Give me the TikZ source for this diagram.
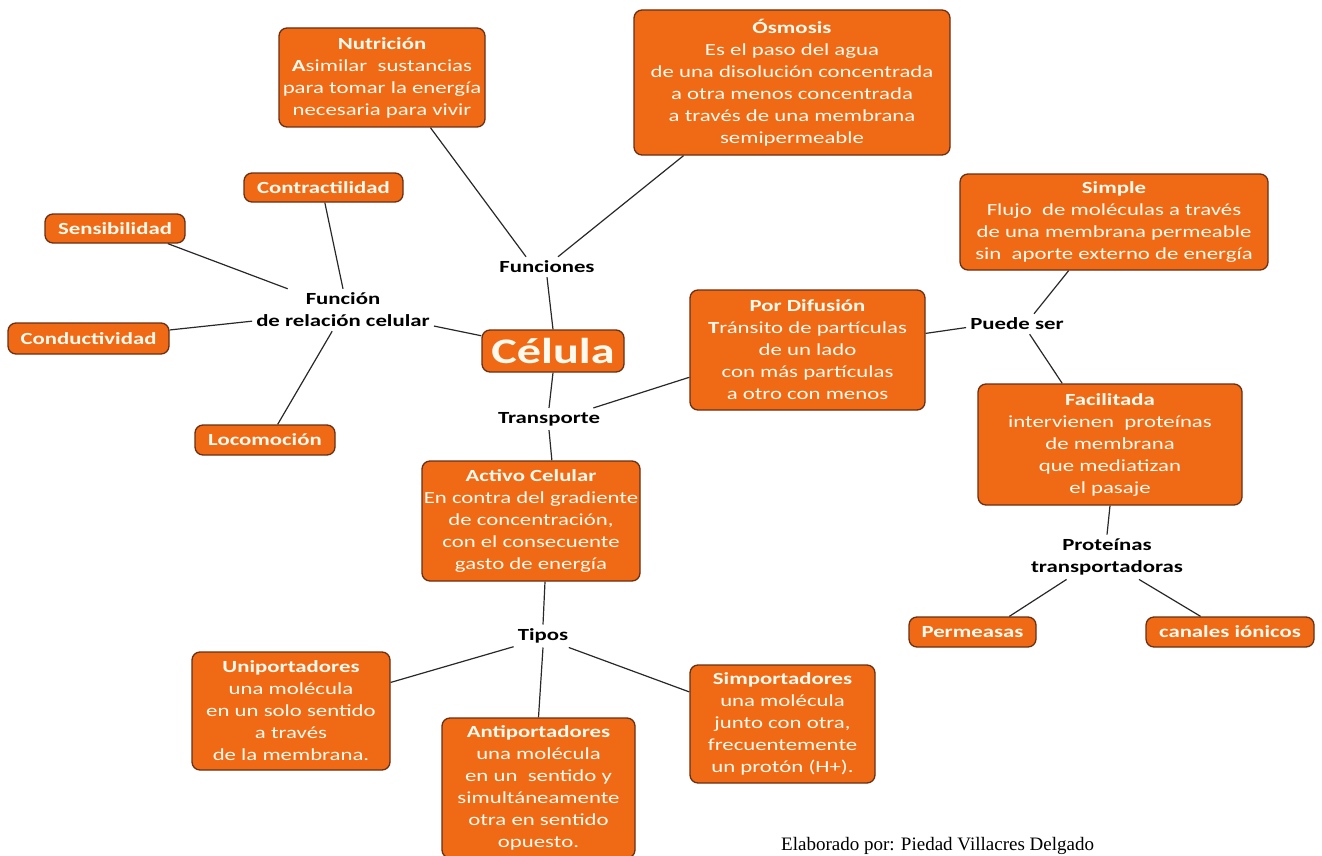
\documentclass[tikz,border=0pt]{standalone}
\usepackage{fontspec}
\setmainfont{Carlito}[FakeStretch=1.34]
\newfontfamily\footfont{Liberation Serif}
\usepackage{tikz}
\usetikzlibrary{positioning}
\definecolor{boxorange}{RGB}{240,105,20}
\definecolor{boxedge}{RGB}{105,48,20}
\definecolor{boxtext}{RGB}{255,249,238}
\definecolor{linkgray}{RGB}{40,40,40}

\begin{document}
\begin{tikzpicture}[x=1pt,y=-1pt,font=\fontsize{17}{22}\selectfont,
 box/.style={draw=boxedge,line width=1.3pt,fill=boxorange,text=boxtext,rounded corners=8pt,align=center,inner sep=0pt},
 tag/.style={font=\fontsize{17}{22}\selectfont\bfseries,align=center,inner sep=4pt},
 link/.style={draw=linkgray,line width=1.2pt}]
 \useasboundingbox (0,0) rectangle (1322,856);
 % centre
 \node[box,minimum width=142pt,minimum height=42pt,font=\fontsize{36}{40}\selectfont\bfseries] (cel) at (553,351) {Célula};
 % funciones
 \node[tag] (fun) at (547,267) {Funciones};
 \node[box,minimum width=206pt,minimum height=99pt] (nut) at (382,77.5) {\textbf{Nutrición}\\\textbf{A}similar\ \ sustancias\\para tomar la energía\\necesaria para vivir};
 \node[box,minimum width=316pt,minimum height=145pt] (osm) at (792,82.5) {\textbf{Ósmosis}\\Es el paso del agua\\de una disolución concentrada\\a otra menos concentrada\\a través de una membrana\\semipermeable};
 % relacion
 \node[tag] (rel) at (343,310) {Función\\de relación celular};
 \node[box,minimum width=159pt,minimum height=29pt,font=\fontsize{17}{22}\selectfont\bfseries] (con) at (323.5,187.5) {Contractilidad};
 \node[box,minimum width=140pt,minimum height=29pt,font=\fontsize{17}{22}\selectfont\bfseries] (sen) at (115,228.5) {Sensibilidad};
 \node[box,minimum width=161pt,minimum height=31pt,font=\fontsize{17}{22}\selectfont\bfseries] (cond) at (88.5,338.5) {Conductividad};
 \node[box,minimum width=140pt,minimum height=30pt,font=\fontsize{17}{22}\selectfont\bfseries] (loc) at (265,440) {Locomoción};
 % transporte
 \node[tag] (tra) at (549,419) {Transporte};
 \node[box,minimum width=235pt,minimum height=120pt] (dif) at (807.5,350) {\textbf{Por Difusión}\\\textbf{T}ránsito de partículas\\de un lado\\con más partículas\\a otro con menos};
 \node[tag] (pue) at (1017,324) {Puede ser};
 \node[box,minimum width=308pt,minimum height=96pt] (sim) at (1114,222) {\textbf{Simple}\\Flujo\ \ de moléculas a través\\de una membrana permeable\\sin\ \ aporte externo de energía};
 \node[box,minimum width=264pt,minimum height=121pt] (fac) at (1110,444.5) {\textbf{Facilitada}\\intervienen\ \ proteínas\\de membrana\\que mediatizan\\el pasaje};
 \node[tag] (pro) at (1107,557) {Proteínas\\transportadoras};
 \node[box,minimum width=127pt,minimum height=30pt,font=\fontsize{17}{22}\selectfont\bfseries] (per) at (972.5,632) {Permeasas};
 \node[box,minimum width=168pt,minimum height=30pt,font=\fontsize{17}{22}\selectfont\bfseries] (can) at (1230,632) {canales iónicos};
 \node[box,minimum width=218pt,minimum height=120pt] (act) at (531,521) {\textbf{Activo Celular}\\En contra del gradiente\\de concentración,\\con el consecuente\\gasto de energía};
 \node[tag] (tip) at (543,636) {Tipos};
 \node[box,minimum width=198pt,minimum height=118pt] (uni) at (291,711) {\textbf{Uniportadores}\\una molécula\\en un solo sentido\\a través\\de la membrana.};
 \node[box,minimum width=193pt,minimum height=140pt] (anti) at (538.5,788) {\textbf{Antiportadores}\\una molécula\\en un\ \ sentido y\\simultáneamente\\otra en sentido\\opuesto.};
 \node[box,minimum width=185pt,minimum height=118pt] (simp) at (782.5,724) {\textbf{Simportadores}\\una molécula\\junto con otra,\\frecuentemente\\un protón (H+).};
 \node[anchor=base west,inner sep=0pt,font=\footfont\fontsize{19}{22}\selectfont] (aut) at (781,850) {Elaborado por: Piedad Villacres Delgado};
 % connectors
 \draw[link] (nut.-46) -- (fun.154);
 \draw[link] (osm.214) -- (fun.43);
 \draw[link] (fun.south) -- (cel.north);
 \draw[link] (con.-85) -- (rel.north);
 \draw[link] (sen.-16) -- (rel.159);
 \draw[link] (cond.6) -- (rel.187);
 \draw[link] (loc.51) -- (rel.243);
 \draw[link] (rel.-10) -- (cel.168);
 \draw[link] (cel.south) -- (tra.north);
 \draw[link] (tra.south) -- (act.71);
 \draw[link] (tra.14) -- (dif.193);
 \draw[link] (dif.8) -- (pue.184);
 \draw[link] (pue.31) -- (sim.227);
 \draw[link] (pue.-39) -- (fac.128);
 \draw[link] (fac.south) -- (pro.north);
 \draw[link] (pro.209) -- (per.23);
 \draw[link] (pro.-35) -- (can.152);
 \draw[link] (act.-77) -- (tip.north);
 \draw[link] (tip.200) -- (uni.16);
 \draw[link] (tip.south) -- (anti.north);
 \draw[link] (tip.-24) -- (simp.161);
\end{tikzpicture}
\end{document}
